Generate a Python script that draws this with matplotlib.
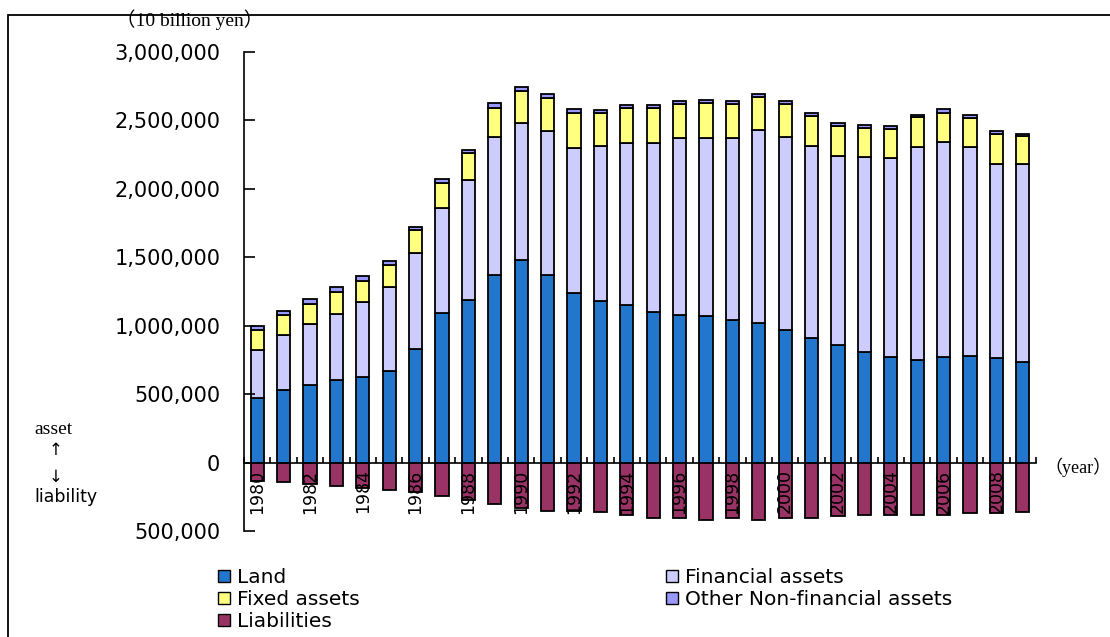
import numpy as np
import matplotlib.pyplot as plt
from matplotlib.patches import Rectangle, Patch
from matplotlib.ticker import FuncFormatter

# household balance sheet, units of 10 billion yen
years = list(range(1980, 2010))
land = [472, 528, 569, 601, 621, 669, 830, 1091, 1190, 1370,
        1481, 1373, 1241, 1180, 1153, 1100, 1078, 1070, 1039, 1019,
        968, 909, 860, 809, 770, 748, 770, 779, 760, 733]
financial = [348, 402, 440, 486, 550, 612, 702, 771, 870, 1010,
             999, 1048, 1059, 1129, 1183, 1236, 1290, 1298, 1329, 1410,
             1410, 1400, 1378, 1420, 1451, 1554, 1569, 1523, 1420, 1447]
fixed = [146, 148, 152, 162, 158, 158, 167, 176, 198, 208,
         230, 238, 249, 247, 250, 250, 249, 259, 249, 240,
         239, 218, 220, 217, 218, 218, 217, 215, 217, 208]
other = [34, 30, 32, 32, 35, 32, 21, 32, 24, 34,
         30, 34, 31, 22, 24, 24, 22, 22, 22, 24,
         22, 24, 22, 22, 19, 17, 24, 22, 24, 11]
liabilities = [132, 144, 156, 174, 183, 203, 218, 242, 274, 300,
               330, 354, 354, 364, 381, 403, 403, 416, 408, 416,
               403, 403, 391, 381, 381, 381, 381, 372, 372, 361]

land = np.array(land) * 1000
financial = np.array(financial) * 1000
fixed = np.array(fixed) * 1000
other = np.array(other) * 1000
liabilities = np.array(liabilities) * 1000

c_land = '#2277cc'
c_fin = '#ccccff'
c_fixed = '#ffff80'
c_other = '#9999ff'
c_liab = '#993366'

fig = plt.figure(figsize=(11.1, 6.37), dpi=100)
ax = fig.add_axes([0.2198, 0.1664, 0.7135, 0.7524])

x = np.arange(len(years))
w = 0.5
kw = dict(width=w, edgecolor='black', linewidth=1.3)
ax.bar(x, land, color=c_land, **kw)
ax.bar(x, financial, bottom=land, color=c_fin, **kw)
ax.bar(x, fixed, bottom=land + financial, color=c_fixed, **kw)
ax.bar(x, other, bottom=land + financial + fixed, color=c_other, **kw)
ax.bar(x, -liabilities, color=c_liab, **kw)

ax.set_xlim(-0.5, len(years) - 0.5)
ax.set_ylim(-500000, 3000000)

for s in ['top', 'right']:
    ax.spines[s].set_visible(False)
ax.spines['bottom'].set_position(('data', 0))
ax.spines['left'].set_linewidth(1.2)
ax.spines['bottom'].set_linewidth(1.2)

ax.set_yticks(np.arange(-500000, 3000001, 500000))
ax.yaxis.set_major_formatter(FuncFormatter(lambda v, p: f'{abs(v):,.0f}'))
ax.tick_params(axis='y', direction='in', length=8, width=1.2, pad=17,
               labelsize=15)

ax.set_xticks(x[::2])
ax.set_xticklabels([str(y) for y in years[::2]], rotation=90, fontsize=12.5,
                   va='top', ha='center')
ax.set_xticks(np.arange(-0.5, len(years)), minor=True)
ax.tick_params(axis='x', which='major', length=0, pad=5)
ax.tick_params(axis='x', which='minor', direction='in', length=4, width=1.2)

# unit and direction notes
serif = ['Liberation Serif', 'Noto Sans CJK JP']
fig.text(116 / 1110, 1 - 20 / 637, '（10 billion yen）', fontsize=14,
         family=serif, va='center')
fig.text(1044 / 1110, 1 - 467 / 637, '（year）', fontsize=13,
         family=serif, va='center')
fig.text(34 / 1110, 1 - 429 / 637, 'asset', fontsize=14,
         family='Liberation Serif', va='center')
fig.text(56 / 1110, 1 - 450 / 637, '↑', fontsize=12, ha='center', va='center')
fig.text(56 / 1110, 1 - 477 / 637, '↓', fontsize=12, ha='center', va='center')
fig.text(34 / 1110, 1 - 497 / 637, 'liability', fontsize=12.5, va='center')

handles = [Patch(facecolor=c_land, edgecolor='black', label='Land'),
           Patch(facecolor=c_fixed, edgecolor='black', label='Fixed assets'),
           Patch(facecolor=c_liab, edgecolor='black', label='Liabilities'),
           Patch(facecolor=c_fin, edgecolor='black', label='Financial assets'),
           Patch(facecolor=c_other, edgecolor='black',
                 label='Other Non-financial assets')]
fig.legend(handles=handles, ncol=2, loc='upper left',
           bbox_to_anchor=(208 / 1110, 1 - 558 / 637), frameon=False,
           fontsize=14.5, handlelength=0.6, handleheight=0.6,
           handletextpad=0.35, columnspacing=15.2, labelspacing=0.15,
           borderpad=0)

fig.patches.append(Rectangle((8 / 1110, -0.05), 1.1, 1.05 - 15 / 637,
                             transform=fig.transFigure, fill=False,
                             edgecolor='black', linewidth=1.3))

fig.savefig('out.png', dpi=100)
